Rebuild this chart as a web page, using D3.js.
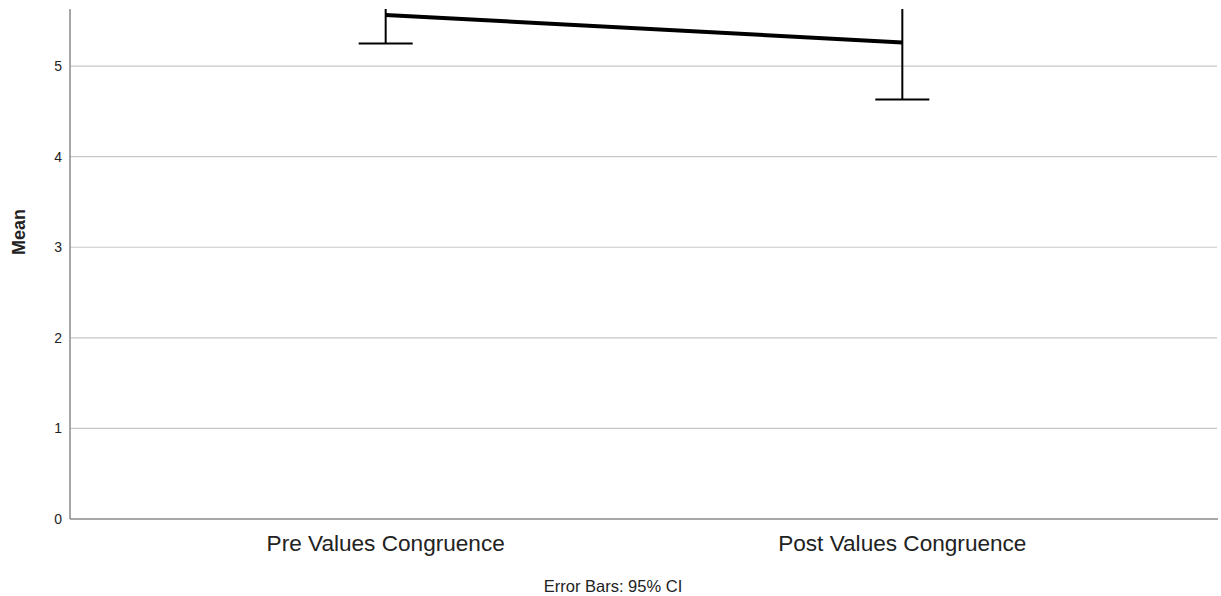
<!DOCTYPE html>
<html><head>
<meta charset="utf-8">
<script src="https://d3js.org/d3.v7.min.js"></script>
<style>
  body { margin: 0; background: #fff; }
  svg text { font-family: "Liberation Sans", Arial, sans-serif; fill: #222; }
  .grid line { stroke: #c8c8c8; stroke-width: 1.2px; }
  .axis { stroke: #8a8a8a; stroke-width: 1.5px; }
  .err { stroke: #000; stroke-width: 2px; fill: none; }
  .meanline { stroke: #000; stroke-width: 4px; fill: none; }
</style>
</head>
<body>
<svg id="chart" width="1221" height="596"></svg>
<script>
// data
var categories = ["Pre Values Congruence", "Post Values Congruence"];
var means = [5.565, 5.26];
var ciLow = [5.25, 4.63];
var ciHigh = [5.88, 5.89];
var yTicks = [0, 1, 2, 3, 4, 5];

var svg = d3.select("#chart");
var mLeft = 70, mRight = 1218, mTop = 9, mBottom = 519;

var x = d3.scalePoint().domain(categories).range([mLeft, mRight]).padding(0.611);
var y = d3.scaleLinear().domain([0, 5.63]).range([mBottom, mTop]);

// clip so the error bars are cut off at the top like the original
svg.append("clipPath").attr("id", "plotclip")
  .append("rect").attr("x", mLeft).attr("y", mTop)
  .attr("width", mRight - mLeft).attr("height", mBottom - mTop);

// gridlines
svg.append("g").attr("class", "grid")
  .selectAll("line").data(yTicks.filter(d => d > 0))
  .enter().append("line")
  .attr("x1", mLeft).attr("x2", mRight - 1)
  .attr("y1", d => y(d)).attr("y2", d => y(d));

// y tick labels
svg.append("g").selectAll("text").data(yTicks)
  .enter().append("text")
  .attr("x", mLeft - 8).attr("y", d => y(d) + 5)
  .attr("text-anchor", "end")
  .style("font-size", "14px")
  .text(d => d);

// axes
svg.append("line").attr("class", "axis")
  .attr("x1", mLeft).attr("x2", mLeft).attr("y1", mTop).attr("y2", mBottom);
svg.append("line").attr("class", "axis")
  .attr("x1", mLeft).attr("x2", mRight).attr("y1", mBottom).attr("y2", mBottom);

var plot = svg.append("g").attr("clip-path", "url(#plotclip)");

// error bars
categories.forEach(function(c, i) {
  var cx = x(c);
  plot.append("line").attr("class", "err")
    .attr("x1", cx).attr("x2", cx)
    .attr("y1", y(ciLow[i])).attr("y2", y(ciHigh[i]));
  [ciLow[i], ciHigh[i]].forEach(function(v) {
    plot.append("line").attr("class", "err")
      .attr("x1", cx - 27).attr("x2", cx + 27)
      .attr("y1", y(v)).attr("y2", y(v));
  });
});

// mean line
var line = d3.line().x((d, i) => x(categories[i])).y(d => y(d));
plot.append("path").datum(means).attr("class", "meanline").attr("d", line);

// category labels
svg.append("g").selectAll("text").data(categories)
  .enter().append("text")
  .attr("x", d => x(d)).attr("y", 551)
  .attr("text-anchor", "middle")
  .style("font-size", "22.6px")
  .text(d => d);

// y title
svg.append("text")
  .attr("transform", "translate(25,232) rotate(-90)")
  .attr("text-anchor", "middle")
  .style("font-size", "18px").style("font-weight", "bold")
  .text("Mean");

// footnote
svg.append("text")
  .attr("x", 613).attr("y", 592)
  .attr("text-anchor", "middle")
  .style("font-size", "16.5px")
  .text("Error Bars: 95% CI");
</script>
</body></html>
